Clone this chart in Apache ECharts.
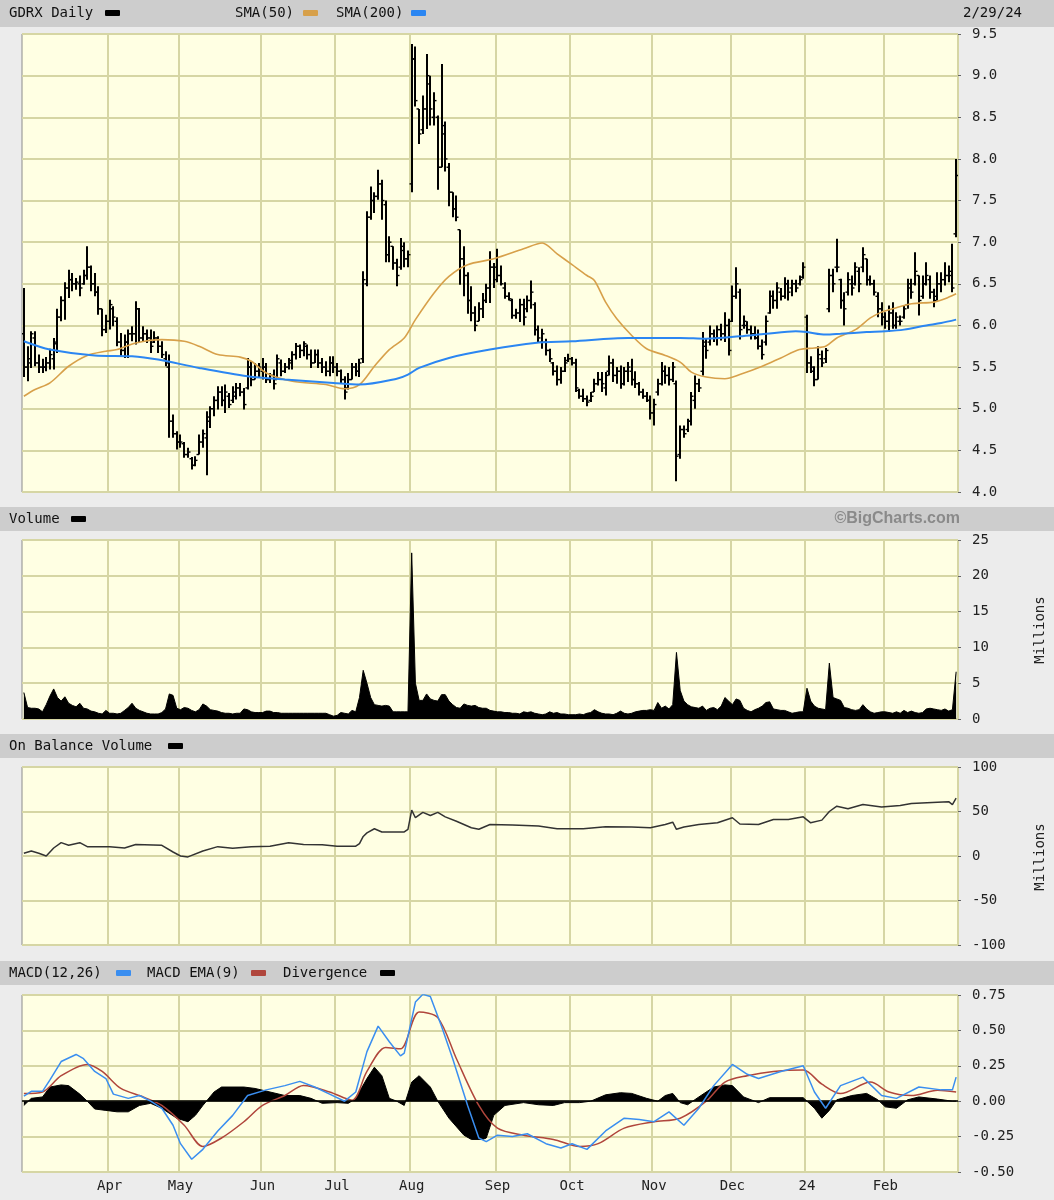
<!DOCTYPE html>
<html>
<head>
<meta charset="utf-8">
<script src="https://cdn.jsdelivr.net/npm/echarts@6/dist/echarts.min.js"></script>
<style>
html,body{margin:0;padding:0;background:#ececec;}
#c{width:1054px;height:1200px;}
</style>
</head>
<body>
<div id="c"></div>
<script>
// ---------- DATA ----------
const monthStartIdx = [23,42,64,84,104,127,147,169,190,210,231];
const monthLabels = ['Apr','May','Jun','Jul','Aug','Sep','Oct','Nov','Dec','24','Feb'];
const priceTicks = [4,9.5,0.5];
const volumeTicks = [0,25,5];
const obvTicks = [-100,100,50];
const macdTicks = [-0.5,0.75,0.25];

// daily bars [open, high, low, close], Mar 1 2023 .. Feb 29 2024
const ohlc = [
// Mar
[5.9,6.45,5.38,5.5],[5.5,5.75,5.33,5.55],[5.6,5.93,5.49,5.9],[5.85,5.93,5.51,5.55],[5.55,5.65,5.43,5.5],
[5.5,5.6,5.43,5.5],[5.5,5.62,5.45,5.55],[5.55,5.72,5.47,5.65],[5.6,5.85,5.47,5.78],[5.8,6.2,5.67,6.1],
[6.1,6.35,6.05,6.3],[6.3,6.52,6.07,6.45],[6.45,6.67,6.33,6.55],[6.55,6.63,6.41,6.5],[6.5,6.57,6.43,6.52],
[6.5,6.6,6.35,6.45],[6.5,6.67,6.49,6.6],[6.6,6.95,6.55,6.7],[6.7,6.72,6.41,6.5],[6.5,6.63,6.35,6.4],
[6.4,6.47,6.13,6.2],[6.2,6.2,5.87,5.95],[5.95,6.13,5.91,6.05],
// Apr
[6.05,6.31,5.95,6.25],[6.2,6.23,5.99,6.1],[6.05,6.1,5.75,5.8],[5.8,5.91,5.63,5.7],[5.7,5.89,5.61,5.8],
[5.8,5.95,5.61,5.9],[5.9,5.99,5.81,5.9],[5.9,6.29,5.77,6.2],[6.2,6.21,5.79,5.85],[5.85,5.99,5.81,5.9],
[5.9,5.95,5.79,5.85],[5.85,5.95,5.67,5.75],[5.8,5.93,5.79,5.85],[5.85,5.87,5.67,5.75],[5.75,5.81,5.61,5.65],
[5.6,5.69,5.51,5.55],[5.5,5.65,4.65,4.85],[4.85,4.93,4.65,4.7],[4.7,4.73,4.51,4.6],
// May
[4.6,4.69,4.53,4.6],[4.58,4.6,4.41,4.45],[4.45,4.53,4.41,4.48],[4.4,4.42,4.27,4.32],[4.32,4.43,4.31,4.38],
[4.45,4.69,4.45,4.6],[4.6,4.75,4.53,4.7],[4.65,4.97,4.2,4.9],[4.85,5.03,4.77,5.0],[5.0,5.15,4.91,5.1],
[5.1,5.27,4.99,5.2],[5.2,5.27,5.03,5.1],[5.1,5.29,4.95,5.2],[5.15,5.19,5.01,5.05],[5.1,5.27,5.07,5.2],
[5.15,5.31,5.11,5.25],[5.25,5.31,5.15,5.2],[5.2,5.25,4.99,5.05],[5.25,5.61,5.23,5.5],[5.5,5.57,5.27,5.35],
[5.35,5.55,5.35,5.45],[5.45,5.55,5.38,5.5],
// Jun
[5.45,5.61,5.35,5.5],[5.5,5.55,5.31,5.35],[5.35,5.43,5.31,5.4],[5.4,5.47,5.23,5.3],[5.35,5.65,5.35,5.6],
[5.55,5.59,5.39,5.45],[5.45,5.55,5.43,5.5],[5.5,5.61,5.47,5.58],[5.55,5.69,5.47,5.65],[5.65,5.79,5.59,5.75],
[5.75,5.77,5.61,5.7],[5.7,5.81,5.63,5.78],[5.75,5.77,5.59,5.65],[5.65,5.71,5.49,5.55],[5.55,5.71,5.55,5.65],
[5.65,5.71,5.49,5.55],[5.55,5.61,5.43,5.5],[5.5,5.57,5.39,5.45],[5.45,5.63,5.39,5.55],[5.55,5.63,5.43,5.5],
// Jul
[5.5,5.55,5.39,5.45],[5.45,5.47,5.31,5.35],[5.35,5.39,5.11,5.2],[5.25,5.43,5.23,5.35],[5.35,5.55,5.35,5.5],
[5.5,5.55,5.39,5.45],[5.45,5.6,5.38,5.55],[5.6,6.65,5.55,6.55],[6.5,7.37,6.47,7.3],[7.3,7.67,7.27,7.5],
[7.5,7.6,7.35,7.55],[7.55,7.87,7.51,7.7],[7.7,7.75,7.27,7.5],[7.45,7.5,6.76,6.85],[6.85,7.07,6.76,7.0],
[6.95,6.95,6.67,6.75],[6.75,6.8,6.47,6.6],[6.7,7.05,6.67,6.95],[6.9,7.0,6.7,6.8],[6.8,6.9,6.7,6.85],
// Aug
[7.7,9.38,7.6,9.2],[9.2,9.35,8.63,8.7],[8.6,8.6,8.18,8.3],[8.35,8.76,8.3,8.6],[8.6,9.26,8.36,9.0],
[8.9,9.0,8.4,8.6],[8.5,8.8,8.4,8.7],[8.5,8.52,7.63,7.9],[7.9,9.14,7.9,8.4],[8.3,8.45,7.85,8.0],
[7.9,7.95,7.43,7.6],[7.6,7.6,7.3,7.4],[7.4,7.56,7.25,7.3],[7.15,7.15,6.49,6.8],[6.8,6.95,6.35,6.6],
[6.6,6.64,6.14,6.3],[6.3,6.47,6.05,6.15],[6.15,6.23,5.93,6.0],[6.05,6.28,6.05,6.2],[6.2,6.39,6.09,6.3],
[6.3,6.5,6.27,6.45],[6.45,6.89,6.27,6.7],[6.7,6.75,6.45,6.55],
// Sep
[6.7,6.92,6.52,6.6],[6.6,6.72,6.48,6.5],[6.45,6.52,6.32,6.35],[6.35,6.4,6.3,6.32],[6.3,6.32,6.08,6.12],
[6.12,6.2,6.08,6.15],[6.15,6.32,6.04,6.25],[6.25,6.32,6.0,6.1],[6.2,6.36,6.16,6.3],[6.3,6.54,6.2,6.4],
[6.25,6.28,5.88,5.95],[5.95,6.0,5.8,5.85],[5.8,5.96,5.72,5.9],[5.8,5.84,5.64,5.7],[5.7,5.72,5.56,5.6],
[5.55,5.56,5.4,5.45],[5.45,5.52,5.28,5.35],[5.35,5.5,5.3,5.45],[5.45,5.62,5.44,5.55],[5.58,5.66,5.56,5.6],
// Oct
[5.6,5.62,5.52,5.55],[5.55,5.6,5.2,5.25],[5.22,5.24,5.12,5.15],[5.15,5.24,5.08,5.12],[5.12,5.16,5.03,5.08],
[5.1,5.2,5.08,5.15],[5.2,5.36,5.2,5.3],[5.3,5.44,5.28,5.35],[5.35,5.44,5.2,5.3],[5.25,5.44,5.16,5.4],
[5.45,5.64,5.4,5.55],[5.55,5.6,5.32,5.4],[5.4,5.5,5.3,5.45],[5.45,5.52,5.24,5.3],[5.3,5.5,5.28,5.45],
[5.45,5.56,5.32,5.5],[5.45,5.6,5.28,5.35],[5.35,5.45,5.25,5.3],[5.3,5.32,5.16,5.2],[5.2,5.24,5.12,5.15],
[5.15,5.2,5.08,5.1],[5.1,5.16,4.87,4.95],
// Nov
[4.95,5.12,4.8,5.05],[5.2,5.36,5.16,5.3],[5.3,5.56,5.28,5.45],[5.45,5.52,5.3,5.4],[5.4,5.5,5.28,5.35],
[5.35,5.56,5.32,5.5],[5.3,5.34,4.13,4.43],[4.45,4.8,4.4,4.75],[4.75,4.8,4.65,4.7],[4.75,4.88,4.72,4.85],
[4.85,5.2,4.8,5.15],[5.1,5.4,5.0,5.3],[5.3,5.36,5.2,5.25],[5.45,5.92,5.4,5.8],[5.75,5.84,5.6,5.7],
[5.8,6.0,5.76,5.9],[5.9,5.95,5.8,5.85],[5.85,6.0,5.76,5.95],[5.95,6.02,5.82,5.9],[5.9,6.16,5.8,6.0],
[6.0,6.08,5.64,5.7],
// Dec
[6.05,6.48,6.04,6.35],[6.35,6.7,6.32,6.5],[6.4,6.44,5.83,5.95],[6.0,6.12,5.96,6.05],[6.0,6.05,5.9,5.95],
[5.95,6.0,5.83,5.9],[5.9,5.99,5.83,5.85],[5.85,5.95,5.71,5.75],[5.75,5.83,5.59,5.65],[5.8,6.12,5.76,6.05],
[6.15,6.42,6.14,6.35],[6.35,6.42,6.2,6.3],[6.3,6.52,6.2,6.45],[6.4,6.45,6.3,6.35],[6.35,6.58,6.32,6.5],
[6.5,6.55,6.3,6.4],[6.45,6.55,6.35,6.5],[6.5,6.55,6.4,6.45],[6.5,6.6,6.48,6.55],[6.58,6.76,6.56,6.7],
// Jan
[6.1,6.13,5.43,5.55],[5.55,5.63,5.43,5.5],[5.45,5.51,5.27,5.35],[5.35,5.75,5.35,5.65],[5.6,5.7,5.5,5.55],
[5.6,5.73,5.55,5.7],[6.2,6.68,6.16,6.6],[6.6,6.68,6.4,6.5],[6.7,7.04,6.64,6.7],[6.55,6.56,6.2,6.3],
[6.3,6.4,6.0,6.2],[6.4,6.64,6.36,6.55],[6.5,6.6,6.36,6.45],[6.5,6.76,6.48,6.7],[6.65,6.7,6.4,6.5],
[6.7,6.94,6.64,6.85],[6.8,6.8,6.48,6.55],[6.55,6.6,6.48,6.5],[6.5,6.55,6.36,6.4],[6.35,6.4,6.1,6.2],
[6.2,6.28,6.0,6.1],
// Feb
[6.1,6.16,5.96,6.05],[6.05,6.24,5.92,6.15],[6.15,6.28,5.96,6.0],[6.0,6.16,5.96,6.1],[6.05,6.12,6.0,6.05],
[6.1,6.24,6.08,6.2],[6.25,6.56,6.2,6.5],[6.45,6.56,6.32,6.4],[6.5,6.88,6.48,6.65],[6.6,6.6,6.12,6.3],
[6.35,6.6,6.32,6.5],[6.5,6.76,6.48,6.6],[6.55,6.6,6.32,6.4],[6.4,6.44,6.22,6.3],[6.35,6.64,6.3,6.5],
[6.5,6.64,6.4,6.55],[6.55,6.76,6.48,6.6],[6.6,6.72,6.52,6.65],[6.6,6.98,6.4,6.45],[7.1,8.0,7.06,7.8]
];

// [day index, value]
const sma50 = [[0,5.15],[3,5.23],[7,5.31],[12,5.51],[17,5.64],[22,5.69],[25,5.71],[30,5.79],[37,5.83],[43,5.81],
[47,5.75],[52,5.65],[58,5.62],[61,5.57],[65,5.43],[72,5.33],[81,5.29],[86,5.24],[90,5.29],[94,5.51],[98,5.71],
[102,5.85],[105,6.07],[110,6.39],[114,6.59],[119,6.73],[126,6.8],[134,6.92],[139,6.99],[143,6.86],[147,6.73],
[151,6.6],[153,6.54],[156,6.28],[159,6.08],[163,5.88],[167,5.72],[172,5.64],[176,5.56],[179,5.44],[183,5.38],
[188,5.36],[192,5.41],[198,5.51],[203,5.61],[208,5.71],[212,5.73],[215,5.75],[218,5.85],[223,5.95],[227,6.09],
[230,6.16],[233,6.2],[238,6.26],[244,6.28],[247,6.32],[250,6.38]];

const sma200 = [[0,5.81],[7,5.71],[19,5.64],[29,5.63],[36,5.59],[47,5.49],[60,5.39],[70,5.35],[83,5.31],[90,5.29],
[100,5.36],[103,5.41],[106,5.49],[114,5.61],[125,5.71],[137,5.79],[147,5.81],[162,5.85],[176,5.85],[183,5.84],
[192,5.87],[199,5.9],[207,5.93],[210,5.92],[215,5.89],[219,5.9],[226,5.92],[231,5.93],[236,5.95],[242,6.0],
[246,6.03],[250,6.07]];

// volume, millions, one per day
const volume = [
3.7,1.6,1.5,1.5,1.4,1.0,2.0,3.2,4.2,3.0,2.5,3.1,2.2,1.9,1.7,2.2,1.5,1.4,1.1,1.0,0.8,0.7,1.2,
0.8,0.8,0.7,0.8,1.2,1.6,2.2,1.5,1.2,1.0,0.8,0.7,0.7,0.7,0.9,1.4,3.5,3.3,1.5,
1.3,1.6,1.5,1.2,1.0,1.3,2.1,1.8,1.3,1.2,1.1,0.9,0.8,0.8,0.7,0.8,0.8,1.4,1.3,1.0,0.9,0.9,
0.9,1.1,1.1,0.9,0.9,0.8,0.8,0.8,0.8,0.8,0.8,0.8,0.8,0.8,0.8,0.8,0.8,0.8,0.6,0.4,
0.5,0.9,0.8,0.7,1.2,1.0,3.0,6.8,5.0,3.0,2.0,1.9,1.8,1.9,1.8,1.0,1.0,1.0,1.0,1.0,
23.2,5.0,2.6,2.6,3.5,2.8,2.6,2.5,3.4,3.4,2.5,2.0,1.6,1.5,2.1,1.9,1.8,1.9,1.6,1.5,1.5,1.2,1.1,
1.0,1.0,0.9,0.9,0.8,0.8,0.7,1.0,0.9,1.0,0.8,0.7,0.6,0.7,1.0,0.8,0.9,0.7,0.7,0.6,
0.6,0.6,0.7,0.6,0.8,0.9,1.3,1.0,0.8,0.7,0.7,0.6,0.8,1.1,0.8,0.7,0.8,1.0,1.1,1.2,1.2,1.3,
1.2,2.3,1.5,1.8,1.4,2.0,9.3,4.0,2.5,2.0,1.7,1.6,1.5,1.8,1.2,1.5,1.6,1.3,1.8,3.0,2.5,
2.0,2.8,2.6,1.5,1.2,1.0,1.3,1.5,1.8,2.3,2.4,1.4,1.3,1.2,1.2,1.0,0.8,0.9,1.0,1.0,
4.3,2.5,1.8,1.5,1.4,1.3,7.8,3.0,2.8,2.6,1.6,1.5,1.3,1.2,1.3,2.0,1.4,1.0,0.8,0.9,1.0,
1.0,0.9,0.8,1.0,0.8,1.2,0.9,1.1,0.9,0.8,0.9,1.4,1.5,1.4,1.3,1.2,1.4,1.1,1.3,6.6
];

const obv = [[0,3],[2,5.6],[4,3],[6,0],[8,9],[10,15],[12,12],[15,15],[17,10.5],[23,10.5],[27,9],[30,13],
[37,12],[40,4.5],[42,0],[44,-1],[48,5.6],[52,10.5],[56,8.6],[61,10.5],[66,11],[71,15],[75,13],[80,12.7],
[84,11],[89,11],[90,14],[91,22],[92,26],[94,30.6],[96,27],[102,27],[103,30],[104,51.5],[105,43],[107,49],
[109,45.5],[111,49],[113,44],[116,39],[120,31.7],[122,30],[125,35.4],[131,34.7],[138,33.6],[143,30.6],
[150,30.6],[156,32.8],[163,32.5],[168,31.7],[172,35.4],[174,38],[175,30],[177,32.5],[181,35.4],[186,37.3],
[190,43],[192,36],[197,35.4],[201,41],[205,41],[209,44],[211,37.3],[214,40.3],[216,50],[218,56],[221,53],
[225,57.8],[230,55],[235,56.7],[238,59],[245,60.4],[248,61],[249,57.8],[250,65]];

const macd = [[0,0.035],[2,0.07],[5,0.07],[7,0.15],[10,0.28],[14,0.33],[16,0.3],[19,0.21],[22,0.16],[24,0.05],
[28,0.02],[31,0.04],[34,0.0],[37,-0.05],[40,-0.17],[42,-0.3],[45,-0.41],[48,-0.34],[52,-0.21],[56,-0.1],
[60,0.04],[65,0.08],[70,0.11],[74,0.14],[78,0.1],[82,0.05],[86,0.0],[89,0.065],[92,0.35],[95,0.53],[98,0.42],
[101,0.32],[102,0.34],[105,0.70],[107,0.755],[109,0.74],[112,0.53],[115,0.3],[119,-0.03],[122,-0.26],
[124,-0.285],[127,-0.24],[131,-0.25],[135,-0.23],[140,-0.3],[144,-0.33],[147,-0.3],[151,-0.34],[156,-0.21],
[161,-0.12],[165,-0.13],[169,-0.145],[173,-0.075],[177,-0.17],[181,-0.05],[185,0.11],[190,0.26],[194,0.19],
[197,0.16],[203,0.21],[209,0.25],[212,0.065],[215,-0.05],[219,0.11],[225,0.17],[230,0.04],[234,0.02],
[240,0.10],[246,0.08],[249,0.08],[250,0.17]];

const macdSignal = [[0,0.054],[5,0.065],[10,0.18],[17,0.26],[21,0.21],[26,0.09],[32,0.03],[37,-0.03],[43,-0.17],
[48,-0.32],[53,-0.26],[59,-0.145],[64,-0.03],[70,0.04],[75,0.11],[82,0.065],[88,0.007],[92,0.21],[97,0.38],
[101,0.37],[106,0.63],[111,0.59],[116,0.3],[122,-0.03],[127,-0.19],[134,-0.24],[142,-0.27],[149,-0.32],
[154,-0.30],[161,-0.19],[169,-0.145],[176,-0.12],[183,0.0],[188,0.135],[194,0.18],[201,0.21],[209,0.22],
[214,0.12],[219,0.054],[227,0.135],[232,0.065],[238,0.04],[245,0.077],[250,0.065]];

const divergence = [[0,-0.03],[2,0.02],[5,0.03],[7,0.10],[10,0.115],[12,0.11],[15,0.05],[17,0.0],[19,-0.055],
[22,-0.065],[25,-0.075],[28,-0.075],[31,-0.03],[34,-0.015],[37,-0.05],[41,-0.12],[44,-0.145],[46,-0.1],
[48,-0.03],[51,0.065],[53,0.10],[59,0.10],[62,0.09],[66,0.065],[70,0.04],[74,0.04],[77,0.02],[80,-0.015],
[84,-0.01],[87,-0.015],[89,0.02],[92,0.16],[94,0.24],[96,0.18],[98,0.02],[100,0.0],[102,-0.03],[104,0.135],
[106,0.18],[109,0.10],[111,0.0],[114,-0.12],[118,-0.24],[120,-0.27],[123,-0.27],[124,-0.26],[126,-0.1],
[129,-0.03],[134,-0.01],[138,-0.025],[142,-0.03],[145,-0.01],[149,-0.01],[152,0.0],[156,0.045],[160,0.06],
[163,0.055],[167,0.02],[170,0.0],[172,0.04],[174,0.055],[176,-0.01],[178,-0.025],[181,0.03],[185,0.10],
[188,0.115],[190,0.11],[193,0.03],[196,0.0],[197,-0.01],[200,0.025],[209,0.025],[212,-0.05],[214,-0.12],
[216,-0.065],[218,0.01],[222,0.04],[226,0.055],[229,0.01],[231,-0.04],[234,-0.05],[237,0.01],[240,0.03],
[245,0.015],[249,0.0],[250,0.0]];

// ---------- CHART ----------
const days = ohlc.map((_, i) => String(i));
const FONT = '"DejaVu Sans Mono", monospace';
const GRIDC = '#d6d6a4';
const PLOTBG = '#ffffe3';

const grids = [
  {left:22, right:96, top:34, height:458},
  {left:22, right:96, top:540, height:179},
  {left:22, right:96, top:767, height:178},
  {left:22, right:96, top:995, height:177}
].map(g => Object.assign(g, {show:true, backgroundColor:PLOTBG, borderColor:'#8c8c8c', borderWidth:1}));

function xAx(k, labels){
  return {
    type:'category', gridIndex:k, data:days, boundaryGap:true,
    axisLine:{show:false}, axisTick:{show:false},
    axisLabel:{show:labels, interval:(idx)=>monthStartIdx.includes(idx), margin:7,
      fontFamily:FONT, fontSize:14, color:'#222',
      formatter:(v, idx)=>{ const j = monthStartIdx.indexOf(Number(v)); return j>=0 ? monthLabels[j] : ''; }},
    splitLine:{show:true, interval:(idx)=>monthStartIdx.includes(idx), lineStyle:{color:GRIDC, width:2}}
  };
}
function yAx(k, t, fmt){
  return {
    type:'value', gridIndex:k, position:'right', min:t[0], max:t[1], interval:t[2],
    axisLine:{show:false}, axisTick:{show:true, length:3, lineStyle:{color:'#666'}},
    axisLabel:{fontFamily:FONT, fontSize:14, color:'#222', margin:14, formatter:fmt},
    splitLine:{show:true, lineStyle:{color:GRIDC, width:2}}
  };
}

function renderBar(params, api){
  const i = api.value(0);
  const pH = api.coord([i, api.value(2)]);
  const pL = api.coord([i, api.value(3)]);
  const pO = api.coord([i, api.value(1)]);
  const pC = api.coord([i, api.value(4)]);
  const x = Math.round(pH[0]);
  return {type:'group', children:[
    {type:'line', shape:{x1:x, y1:pH[1], x2:x, y2:pL[1]}, style:{stroke:'#000', lineWidth:2}},
    {type:'line', shape:{x1:x-2.5, y1:pO[1], x2:x, y2:pO[1]}, style:{stroke:'#000', lineWidth:1.4}},
    {type:'line', shape:{x1:x, y1:pC[1], x2:x+2.5, y2:pC[1]}, style:{stroke:'#000', lineWidth:1.4}}
  ]};
}

function txt(x, y, s, extra){
  return {type:'text', x:x, y:y, z:100, silent:true,
    style:Object.assign({text:s, font:'14px '+FONT, fill:'#111', verticalAlign:'middle', align:'left'}, extra||{})};
}
function sw(x, y, color){
  return {type:'rect', z:100, silent:true, shape:{x:x, y:y-3, width:15, height:6, r:1}, style:{fill:color}};
}
function band(y, h){
  return {type:'rect', z:-10, silent:true, shape:{x:0, y:y, width:1054, height:h}, style:{fill:'#cdcdcd'}};
}

const C_SMA50 = '#d7a04a', C_SMA200 = '#2b86f2', C_MACD = '#3a8ef0', C_SIG = '#b0463c';

const option = {
  animation:false,
  backgroundColor:'#ececec',
  grid: grids,
  xAxis: [xAx(0,false), xAx(1,false), xAx(2,false), xAx(3,true)],
  yAxis: [
    yAx(0, priceTicks, v=>v.toFixed(1)),
    yAx(1, volumeTicks, v=>String(v)),
    yAx(2, obvTicks, v=>String(v)),
    yAx(3, macdTicks, v=>v.toFixed(2))
  ],
  graphic: [
    band(0,27), band(507,24), band(734,24), band(961,24),
    txt(9,13,'GDRX Daily'), sw(105,13,'#000'),
    txt(235,13,'SMA(50)'), sw(303,13,C_SMA50),
    txt(336,13,'SMA(200)'), sw(411,13,C_SMA200),
    txt(1022,13,'2/29/24',{align:'right'}),
    txt(9,519,'Volume'), sw(71,519,'#000'),
    txt(960,519,'©BigCharts.com',{align:'right', font:'bold 16px "Liberation Sans", Arial, sans-serif', fill:'#8a8a8a'}),
    txt(9,746,'On Balance Volume'), sw(168,746,'#000'),
    txt(9,973,'MACD(12,26)'), sw(116,973,C_MACD),
    txt(147,973,'MACD EMA(9)'), sw(251,973,C_SIG),
    txt(283,973,'Divergence'), sw(380,973,'#000'),
    {type:'text', x:1040, y:630, rotation:Math.PI/2, z:100, silent:true,
      style:{text:'Millions', font:'14px '+FONT, fill:'#222', align:'center', verticalAlign:'middle'}},
    {type:'text', x:1040, y:857, rotation:Math.PI/2, z:100, silent:true,
      style:{text:'Millions', font:'14px '+FONT, fill:'#222', align:'center', verticalAlign:'middle'}}
  ],
  series: [
    {type:'custom', name:'GDRX Daily', xAxisIndex:0, yAxisIndex:0, clip:true, silent:true,
      data: ohlc.map((r,i)=>[i, r[0], r[1], r[2], r[3]]),
      encode:{x:0, y:[1,2,3,4]}, renderItem: renderBar, z:3},
    {type:'line', name:'SMA(50)', xAxisIndex:0, yAxisIndex:0, data:sma50, showSymbol:false, smooth:0.3,
      lineStyle:{color:C_SMA50, width:1.6}, z:4},
    {type:'line', name:'SMA(200)', xAxisIndex:0, yAxisIndex:0, data:sma200, showSymbol:false, smooth:0.3,
      lineStyle:{color:C_SMA200, width:2}, z:4},
    {type:'line', name:'Volume', xAxisIndex:1, yAxisIndex:1, data:volume, showSymbol:false,
      lineStyle:{color:'#000', width:1}, areaStyle:{color:'#000', opacity:1}},
    {type:'line', name:'On Balance Volume', xAxisIndex:2, yAxisIndex:2, data:obv, showSymbol:false,
      lineStyle:{color:'#333', width:1.5}},
    {type:'line', name:'Divergence', xAxisIndex:3, yAxisIndex:3, data:divergence, showSymbol:false,
      lineStyle:{color:'#000', width:1}, areaStyle:{color:'#000', opacity:1, origin:0},
      markLine:{silent:true, symbol:'none', label:{show:false}, lineStyle:{color:'#000', width:1.5, type:'solid'},
        data:[{yAxis:0}]}},
    {type:'line', name:'MACD(12,26)', xAxisIndex:3, yAxisIndex:3, data:macd, showSymbol:false,
      lineStyle:{color:C_MACD, width:1.5}, z:5},
    {type:'line', name:'MACD EMA(9)', xAxisIndex:3, yAxisIndex:3, data:macdSignal, showSymbol:false, smooth:0.3,
      lineStyle:{color:C_SIG, width:1.5}, z:4}
  ]
};

const chart = echarts.init(document.getElementById('c'));
chart.setOption(option);
</script>
</body>
</html>
